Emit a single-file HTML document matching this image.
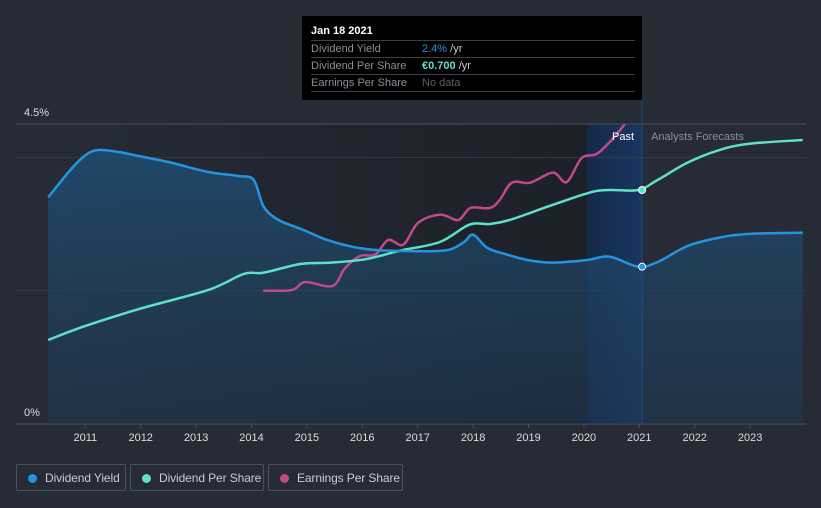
<!DOCTYPE html>
<html><head><meta charset="utf-8"><style>
body{margin:0;background:#262b36;font-family:"Liberation Sans",sans-serif;}
#wrap{position:relative;width:821px;height:508px;overflow:hidden;background:#262b36}
.tt{position:absolute;left:302px;top:16px;width:340px;height:84px;background:#000;color:#fff;font-size:11px}
.tt .row{position:absolute;left:9px;width:324px;border-top:1px solid #3a3f48;height:16px;line-height:16px;color:#8a8f98}
.leg{position:absolute;top:464px;height:27px;border:1px solid #4a505c;border-radius:2px;color:#c8ccd2;font-size:12px;line-height:27px;box-sizing:border-box;white-space:nowrap;overflow:hidden}
.leg i{position:absolute;left:11px;top:9px;width:9px;height:9px;border-radius:50%}
.leg span{position:absolute;left:28px;letter-spacing:-0.1px}
</style></head><body><div id="wrap">
<svg id="chart" width="821" height="508" style="position:absolute;left:0;top:0">
<defs>
<linearGradient id="past" x1="0" x2="1" y1="0" y2="0"><stop offset="0" stop-color="#262b36"/><stop offset="1" stop-color="#1b1f27"/></linearGradient>
<linearGradient id="area" x1="0" x2="0" y1="0" y2="1"><stop offset="0" stop-color="#1f4d72" stop-opacity="0.85"/><stop offset="1" stop-color="#1f3a55" stop-opacity="0.5"/></linearGradient>
<linearGradient id="band" x1="0" x2="1"><stop offset="0" stop-color="#16294a"/><stop offset="1" stop-color="#183660"/></linearGradient>
<clipPath id="clip"><rect x="16" y="124" width="790" height="300"/></clipPath>
</defs>
<g id="layer"></g>
</svg>
<div class="tt">
<div style="position:absolute;left:9px;top:9px;font-weight:bold">Jan 18 2021</div>
<div class="row" style="top:24px">Dividend Yield<b style="position:absolute;left:111px;font-weight:normal;color:#2394df">2.4%<span style="color:#ccc"> /yr</span></b></div>
<div class="row" style="top:41px">Dividend Per Share<b style="position:absolute;left:111px;color:#5fe0c8">€0.700<span style="color:#ccc;font-weight:normal"> /yr</span></b></div>
<div class="row" style="top:58px;border-bottom:1px solid #3a3f48">Earnings Per Share<b style="position:absolute;left:111px;font-weight:normal;color:#5a5f68">No data</b></div>
</div>
<div class="leg" style="left:16px;width:110px"><i style="background:#2394df"></i><span>Dividend Yield</span></div>
<div class="leg" style="left:130px;width:134px"><i style="background:#5fe0c8"></i><span>Dividend Per Share</span></div>
<div class="leg" style="left:268px;width:135px"><i style="background:#c0498a"></i><span>Earnings Per Share</span></div>
</div>
<script>
const yieldYears=[2010.33,2010.73,2011.0,2011.23,2011.6,2011.96,2012.5,2013.22,2013.77,2014.04,2014.22,2014.49,2014.94,2015.3,2015.66,2016.02,2016.47,2017.46,2017.82,2018.0,2018.26,2018.62,2018.98,2019.43,2020.06,2020.46,2020.98,2021.33,2021.87,2022.41,2022.95,2023.95];
const yieldVals=[3.40,3.81,4.03,4.11,4.08,4.02,3.93,3.78,3.72,3.66,3.26,3.06,2.91,2.78,2.69,2.63,2.60,2.60,2.72,2.84,2.64,2.54,2.46,2.42,2.46,2.51,2.36,2.43,2.67,2.79,2.85,2.87];
const dpsYears=[2010.33,2011.0,2011.99,2013.22,2013.86,2014.22,2014.88,2015.42,2016.05,2016.68,2017.4,2017.93,2018.3,2018.66,2019.38,2020.1,2020.46,2020.98,2021.33,2021.87,2022.41,2022.95,2023.95];
const dpsVals=[1.26,1.47,1.73,2.01,2.25,2.27,2.40,2.42,2.47,2.60,2.73,2.99,3.00,3.06,3.27,3.47,3.51,3.51,3.66,3.92,4.10,4.20,4.26];
const epsYears=[2014.21,2014.73,2014.97,2015.46,2015.69,2015.96,2016.23,2016.47,2016.74,2017.01,2017.41,2017.73,2017.95,2018.3,2018.48,2018.7,2019.03,2019.44,2019.69,2019.96,2020.23,2020.5,2020.74];
const epsVals=[2.0,2.01,2.13,2.07,2.34,2.52,2.54,2.76,2.69,3.02,3.14,3.06,3.24,3.24,3.36,3.62,3.62,3.77,3.63,3.99,4.05,4.26,4.5];
const xTicks=[2011,2012,2013,2014,2015,2016,2017,2018,2019,2020,2021,2022,2023];
const yTicks=[0,2,4,4.5];
const NS='http://www.w3.org/2000/svg';
const X=y=>85.3+(y-2011)*55.4, Y=v=>424-v*66.67;
const g=document.getElementById('layer');
function mk(t,a){const e=document.createElementNS(NS,t);for(const k in a)e.setAttribute(k,a[k]);g.appendChild(e);return e;}
function path(xs,vs){const p=xs.map((x,i)=>[X(x),Y(vs[i])]);let d='M'+p[0][0]+','+p[0][1];
for(let i=0;i<p.length-1;i++){const a=p[i-1]||p[i],b=p[i],c=p[i+1],e=p[i+2]||c;
d+=' C'+(b[0]+(c[0]-a[0])/6)+','+(b[1]+(c[1]-a[1])/6)+' '+(c[0]-(e[0]-b[0])/6)+','+(c[1]-(e[1]-b[1])/6)+' '+c[0]+','+c[1];}return d;}
const xNow=X(2021.05);
let e=mk('rect',{x:48,y:124,width:xNow-48,height:300,fill:'url(#past)'});

e=mk('rect',{x:X(2020.06),y:124,width:xNow-X(2020.06),height:300,fill:'url(#band)'});

yTicks.forEach(v=>{const l=mk('line',{x1:16,x2:806,y1:Y(v),y2:Y(v),stroke:v==0||v==4.5?'#4a505c':'#353b47','stroke-width':1});
});
[[0,'0%'],[4.5,'4.5%']].forEach(([v,s])=>{const t=mk('text',{x:24,y:Y(v)-8,fill:'#ddd','font-size':11});t.textContent=s;
});
xTicks.forEach(v=>{const t=mk('text',{x:X(v),y:441,fill:'#ddd','font-size':11,'text-anchor':'middle'});t.textContent=v;

const k=mk('line',{x1:X(v),x2:X(v),y1:424,y2:428,stroke:'#4a505c'});});
const dy=path(yieldYears,yieldVals);
e=mk('path',{d:dy+' L'+X(yieldYears[yieldYears.length-1])+',424 L'+X(yieldYears[0])+',424 Z',fill:'url(#area)'});

e=mk('line',{x1:xNow,x2:xNow,y1:100,y2:424,stroke:'#1f4a80','stroke-width':1});

e=mk('path',{d:path(epsYears,epsVals),fill:'none',stroke:'#c0498a','stroke-width':2.5,'clip-path':'url(#clip)'});

e=mk('path',{d:path(dpsYears,dpsVals),fill:'none',stroke:'#5fe0c8','stroke-width':2.5});

e=mk('path',{d:dy,fill:'none',stroke:'#2394df','stroke-width':2.5});

e=mk('circle',{cx:xNow,cy:Y(3.51),r:3.5,fill:'#5fe0c8',stroke:'#fff','stroke-width':1});

e=mk('circle',{cx:xNow,cy:Y(2.36),r:3.5,fill:'#2394df',stroke:'#fff','stroke-width':1});

e=mk('text',{x:xNow-8,y:140,fill:'#fff','font-size':11,'text-anchor':'end'});e.textContent='Past';

e=mk('text',{x:xNow+9,y:140,fill:'#8a8f98','font-size':11});e.textContent='Analysts Forecasts';

</script>
</body></html>
